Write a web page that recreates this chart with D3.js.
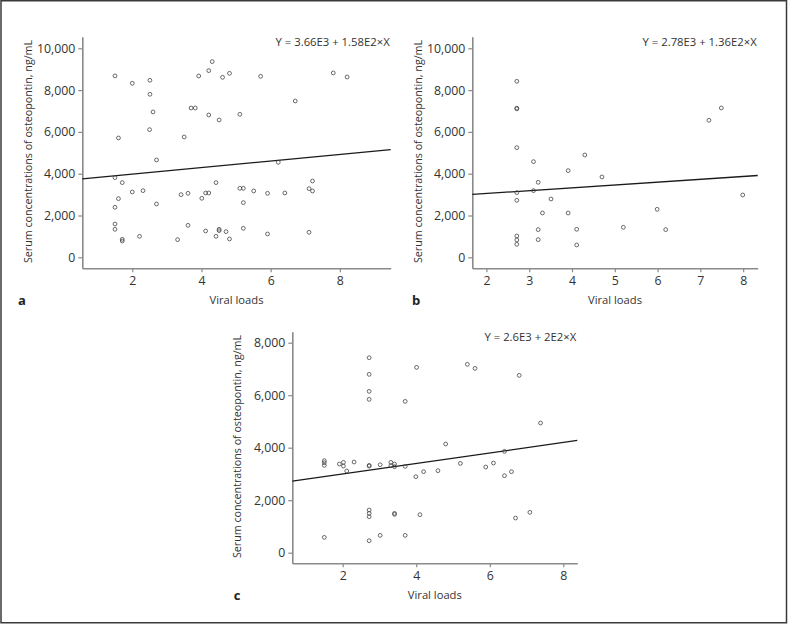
<!DOCTYPE html>
<html>
<head>
<meta charset="utf-8">
<script src="https://cdn.jsdelivr.net/npm/d3@7"></script>
<style>
  html, body { margin: 0; padding: 0; background: #fff; }
  svg { display: block; font-family: "Open Sans", "Noto Sans", sans-serif; }
</style>
</head>
<body>
<svg id="chart" width="788" height="624"></svg>
<script>
// ---- Data ----
const aViral = [1.5,2.0,2.51,2.51,2.6,2.5,1.6,2.7,1.5,1.71,2.0,2.31,1.6,2.7,1.5,1.5,1.5,1.71,1.71,2.21,3.31,3.41,3.61,3.5,3.7,3.82,3.92,4.21,4.31,4.61,4.81,4.21,4.51,4.01,4.12,4.21,4.42,4.12,4.42,4.51,4.51,4.71,4.81,5.11,5.11,5.21,5.21,5.21,5.51,5.71,5.91,5.91,6.22,6.41,6.71,7.11,7.21,7.21,7.11,7.81,8.21,3.61];
const aOPN   = [8680,8325,8469,7800,6954,6108,5710,4657,3812,3573,3126,3190,2807,2552,2392,1595,1340,861,781,1005,845,2998,3062,5757,7145,7145,8676,8931,9362,8612,8804,6810,6571,2823,3078,3078,3573,1260,1005,1340,1276,1228,877,6842,3301,3301,2616,1388,3174,8660,3062,1116,4545,3078,7480,3285,3652,3174,1196,8820,8628,1530];

const bViral = [2.71,2.71,2.71,2.71,2.71,2.71,2.71,2.71,2.71,3.1,3.1,3.21,3.31,3.21,3.21,3.51,3.91,3.91,4.11,4.11,4.30,4.70,5.20,5.99,6.19,7.20,7.49,7.99];
const bOPN   = [8421,7135,7105,5247,3094,2727,1021,829,622,4577,3190,3589,2121,1324,845,2791,4147,2121,1340,590,4896,3844,1435,2297,1324,6555,7145,2982];

const cViral = [2.72,2.72,2.72,2.72,2.72,2.72,2.72,2.72,2.72,2.72,1.5,1.5,1.5,1.91,2.02,2.02,2.11,2.31,3.02,3.31,3.31,3.41,3.41,3.70,3.70,3.41,3.41,4.10,3.02,3.70,1.5,4.01,3.99,4.2,4.59,4.80,5.20,5.39,5.6,5.89,6.10,6.40,6.40,6.59,6.80,6.70,7.09,7.38];
const cOPN   = [7429,6794,6146,5841,3327,3300,1625,1500,1371,457,3505,3429,3327,3378,3441,3300,3111,3454,3352,3441,3314,3378,3276,3289,5765,1498,1460,1448,660,660,584,7060,2895,3086,3124,4140,3403,7175,7022,3263,3416,3860,2933,3086,6756,1320,1537,4940];

const panelLetters = ["a", "b", "c"];
const equations = ["Y = 3.66E3 + 1.58E2×X", "Y = 2.78E3 + 1.36E2×X", "Y = 2.6E3 + 2E2×X"];
const intercepts = [3660, 2780, 2600];
const slopes = [158, 136, 200];
const xTicksA = [2, 4, 6, 8];
const xTicksB = [2, 3, 4, 5, 6, 7, 8];
const xTicksC = [2, 4, 6, 8];
const yTicksAB = [0, 2000, 4000, 6000, 8000, 10000];
const yTicksC = [0, 2000, 4000, 6000, 8000];
const xTitle = "Viral loads";
const yTitle = "Serum concentrations of osteopontin, ng/mL";

// ---- Layout ----
const panels = [
  { xs: aViral, ys: aOPN, left: 82.3, right: 390.7, top: 36.7, bottom: 268.3,
    xDom: [0.555, 9.47], yDom: [-526, 10555], xTicks: xTicksA, yTicks: yTicksAB,
    yTitleX: 32, letterX: 22 },
  { xs: bViral, ys: bOPN, left: 472.3, right: 757.7, top: 36.7, bottom: 268.3,
    xDom: [1.67, 8.34], yDom: [-526, 10555], xTicks: xTicksB, yTicks: yTicksAB,
    yTitleX: 422.3, letterX: 416 },
  { xs: cViral, ys: cOPN, left: 292.3, right: 577.3, top: 331.7, bottom: 563.3,
    xDom: [0.63, 8.38], yDom: [-404, 8419], xTicks: xTicksC, yTicks: yTicksC,
    yTitleX: 241.3, letterX: 237 }
];

const svg = d3.select("#chart");

// outer frame
svg.append("rect")
  .attr("x", 1).attr("y", 0.75).attr("width", 785.5).attr("height", 622)
  .attr("fill", "none").attr("stroke", "#3a3a3a").attr("stroke-width", 1.5);

const fmt = d3.format(",");
const axisColor = "#8a8a8a";
const textColor = "#333";

panels.forEach((p, i) => {
  const x = d3.scaleLinear().domain(p.xDom).range([p.left, p.right]);
  const y = d3.scaleLinear().domain(p.yDom).range([p.bottom, p.top]);
  const g = svg.append("g");

  const yAxis = g.append("g")
    .attr("transform", `translate(${p.left},0)`)
    .call(d3.axisLeft(y).tickValues(p.yTicks).tickFormat(fmt).tickSize(4).tickPadding(3).tickSizeOuter(0));
  const xAxis = g.append("g")
    .attr("transform", `translate(0,${p.bottom})`)
    .call(d3.axisBottom(x).tickValues(p.xTicks).tickFormat(d3.format("d")).tickSize(4).tickPadding(4).tickSizeOuter(0));

  [yAxis, xAxis].forEach(ax => {
    ax.select(".domain").attr("stroke", axisColor).attr("stroke-width", 1.6);
    ax.selectAll(".tick line").attr("stroke", axisColor).attr("stroke-width", 1.2);
    ax.selectAll(".tick text").attr("fill", textColor)
      .style("font-family", '"Open Sans", sans-serif').style("font-size", "12.3px");
  });

  // regression line
  const lx = p.xDom;
  g.append("line")
    .attr("x1", x(lx[0])).attr("y1", y(intercepts[i] + slopes[i] * lx[0]))
    .attr("x2", x(lx[1])).attr("y2", y(intercepts[i] + slopes[i] * lx[1]))
    .attr("stroke", "#1a1a1a").attr("stroke-width", 1.3);

  // points
  g.selectAll("circle.pt").data(p.xs.map((v, k) => [v, p.ys[k]]))
    .enter().append("circle").attr("class", "pt")
    .attr("cx", d => x(d[0])).attr("cy", d => y(d[1]))
    .attr("r", 1.9).attr("fill", "none")
    .attr("stroke", "#444").attr("stroke-width", 0.8);

  // equation
  g.append("text")
    .attr("x", p.right - 1).attr("y", p.top + 9.5)
    .attr("text-anchor", "end").attr("fill", textColor)
    .style("font-size", "11.3px").text(equations[i]);

  // axis titles
  const cy = (p.top + p.bottom) / 2 - 1;
  g.append("text")
    .attr("transform", `translate(${p.yTitleX},${cy}) rotate(-90)`)
    .attr("text-anchor", "middle").attr("fill", textColor)
    .style("font-size", "10.7px").text(yTitle);
  g.append("text")
    .attr("x", (p.left + p.right) / 2).attr("y", p.bottom + 35.5)
    .attr("text-anchor", "middle").attr("fill", textColor)
    .style("font-size", "11.2px").text(xTitle);
  g.append("text")
    .attr("x", p.letterX).attr("y", p.bottom + 36.5)
    .attr("text-anchor", "middle").attr("fill", "#222")
    .style("font-size", "13px").style("font-weight", "bold").text(panelLetters[i]);
});
</script>
</body>
</html>
